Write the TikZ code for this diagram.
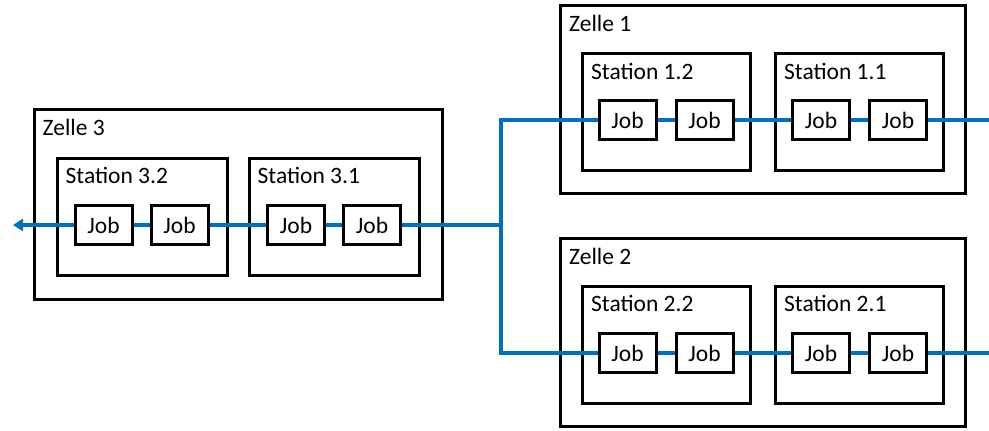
\documentclass[tikz,border=0pt]{standalone}
\usepackage{fontspec}
\setmainfont{Carlito}
\usepackage{xcolor}
\usetikzlibrary{arrows.meta, positioning}
\definecolor{flowblue}{RGB}{0,112,192}

\begin{document}
\begin{tikzpicture}[
    x=1pt, y=-1pt,
    font=\fontsize{23.5}{28}\selectfont,
    node distance=193pt,
    cell/.style={rectangle, draw, line width=3pt, minimum width=405pt, minimum height=188pt},
    station/.style={rectangle, draw, line width=3pt, minimum width=168pt, minimum height=117pt},
    job/.style={rectangle, draw, fill=white, line width=3pt, minimum width=57pt, minimum height=39pt, inner sep=0pt},
    title/.style={anchor=base west, inner sep=0pt},
    flow/.style={draw=flowblue, line width=4pt}
]
\useasboundingbox (0,0) rectangle (989,431);

% Zellen
\node[cell] (z1) at (763,99.5) {};
\node[cell] (z2) at (763,332.5) {};
\node[cell, minimum width=408pt, minimum height=190pt] (z3) at (238,204.5) {};
\node[title] (t1) at ([xshift=10pt, yshift=-27pt]z1.north west) {Zelle 1};
\node[title] (t2) at ([xshift=10pt, yshift=-27pt]z2.north west) {Zelle 2};
\node[title] (t3) at ([xshift=10pt, yshift=-27pt]z3.north west) {Zelle 3};

% Stationen
\node[station] (st12) at (666.5,112) {};
\node[station, right of=st12] (st11) {};
\node[station] (st22) at (666.5,344.5) {};
\node[station, right of=st22] (st21) {};
\node[station, minimum width=170pt] (st32) at (142,216.5) {};
\node[station, minimum width=170pt, right of=st32, node distance=192pt] (st31) {};
\node[title] (ts12) at ([xshift=10pt, yshift=-27pt]st12.north west) {Station 1.2};
\node[title] (ts11) at ([xshift=10pt, yshift=-27pt]st11.north west) {Station 1.1};
\node[title] (ts22) at ([xshift=10pt, yshift=-27pt]st22.north west) {Station 2.2};
\node[title] (ts21) at ([xshift=10pt, yshift=-27pt]st21.north west) {Station 2.1};
\node[title] (ts32) at ([xshift=10pt, yshift=-27pt]st32.north west) {Station 3.2};
\node[title] (ts31) at ([xshift=10pt, yshift=-27pt]st31.north west) {Station 3.1};

% Jobs
\node[job] (j12a) at (627.5,120) {Job};
\node[job, right of=j12a, node distance=77pt] (j12b) {Job};
\node[job] (j11a) at (821,120) {Job};
\node[job, right of=j11a, node distance=77pt] (j11b) {Job};
\node[job] (j22a) at (627.5,353) {Job};
\node[job, right of=j22a, node distance=77pt] (j22b) {Job};
\node[job] (j21a) at (821,353) {Job};
\node[job, right of=j21a, node distance=77pt] (j21b) {Job};
\node[job] (j32a) at (103.5,225) {Job};
\node[job, right of=j32a, node distance=76pt] (j32b) {Job};
\node[job] (j31a) at (296,225) {Job};
\node[job, right of=j31a, node distance=76pt] (j31b) {Job};

% Materialfluss
\coordinate (in1) at (989,120);
\coordinate (in2) at (989,353);
\coordinate (merge) at (501,225);
\coordinate (out) at (13,225);
\draw[flow] (in1) -- (j11b.east);
\draw[flow] (j11b.west) -- (j11a.east);
\draw[flow] (j11a.west) -- (j12b.east);
\draw[flow] (j12b.west) -- (j12a.east);
\draw[flow] (j12a.west) -| (merge);
\draw[flow] (in2) -- (j21b.east);
\draw[flow] (j21b.west) -- (j21a.east);
\draw[flow] (j21a.west) -- (j22b.east);
\draw[flow] (j22b.west) -- (j22a.east);
\draw[flow] (j22a.west) -| (merge);
\draw[flow] (merge) -- (j31b.east);
\draw[flow] (j31b.west) -- (j31a.east);
\draw[flow] (j31a.west) -- (j32b.east);
\draw[flow] (j32b.west) -- (j32a.east);
\draw[flow, -{Triangle[length=10pt, width=12pt]}] (j32a.west) -- (out);
\end{tikzpicture}
\end{document}
